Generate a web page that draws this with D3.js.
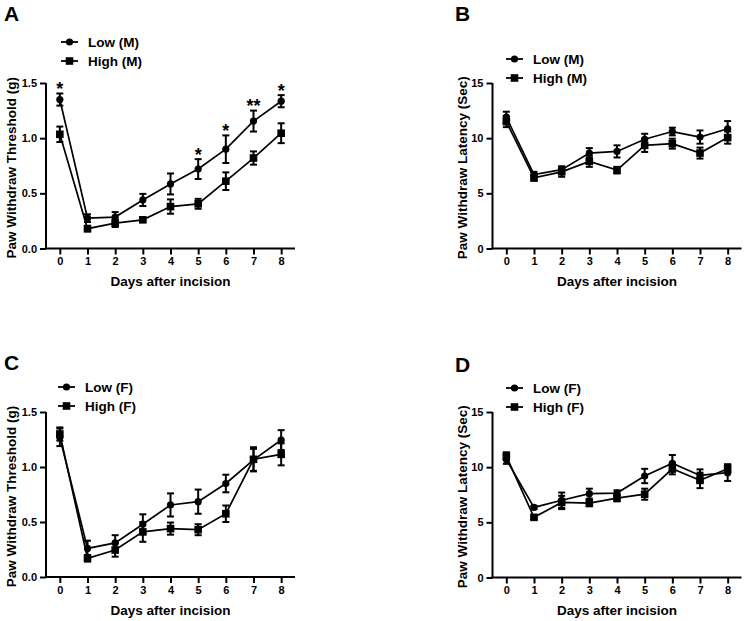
<!DOCTYPE html>
<html>
<head>
<meta charset="utf-8">
<script src="https://cdn.jsdelivr.net/npm/d3@7/dist/d3.min.js"></script>
<style>
  html, body { margin: 0; padding: 0; background: #fff; }
  svg { display: block; }
  text { font-family: "Liberation Sans", Arial, sans-serif; font-weight: bold; fill: #000; }
</style>
</head>
<body>
<svg id="chart" width="746" height="621"></svg>
<script>
// ---------- data ----------
const days = [0, 1, 2, 3, 4, 5, 6, 7, 8];
const thresholdTicks = [0, 0.5, 1.0, 1.5];
const latencyTicks = [0, 5, 10, 15];

const lowM_PWT      = [1.35, 0.275, 0.285, 0.44, 0.585, 0.72, 0.90, 1.155, 1.335];
const lowM_PWT_err  = [0.055, 0.035, 0.045, 0.055, 0.095, 0.09, 0.125, 0.095, 0.055];
const highM_PWT     = [1.035, 0.18, 0.23, 0.26, 0.38, 0.405, 0.61, 0.82, 1.045];
const highM_PWT_err = [0.07, 0.025, 0.035, 0.015, 0.065, 0.045, 0.08, 0.06, 0.09];
const sigA          = ["*", "", "", "", "", "*", "*", "**", "*"];

const lowM_PWL      = [11.9, 6.7, 7.15, 8.65, 8.8, 9.9, 10.6, 10.1, 10.85];
const lowM_PWL_err  = [0.5, 0.25, 0.3, 0.45, 0.55, 0.5, 0.35, 0.6, 0.7];
const highM_PWL     = [11.5, 6.4, 6.95, 7.9, 7.1, 9.35, 9.5, 8.65, 10.05];
const highM_PWL_err = [0.5, 0.25, 0.45, 0.5, 0.3, 0.6, 0.45, 0.5, 0.55];

const lowF_PWT      = [1.27, 0.26, 0.31, 0.48, 0.655, 0.685, 0.85, 1.065, 1.245];
const lowF_PWT_err  = [0.08, 0.07, 0.07, 0.09, 0.105, 0.11, 0.08, 0.1, 0.09];
const highF_PWT     = [1.30, 0.17, 0.245, 0.41, 0.44, 0.43, 0.575, 1.07, 1.115];
const highF_PWT_err = [0.06, 0.03, 0.06, 0.09, 0.055, 0.05, 0.075, 0.11, 0.1];

const lowF_PWL      = [10.7, 6.35, 7.0, 7.6, 7.65, 9.2, 10.35, 9.25, 9.5];
const lowF_PWL_err  = [0.4, 0.15, 0.7, 0.45, 0.25, 0.65, 0.75, 0.55, 0.75];
const highF_PWL     = [11.0, 5.45, 6.8, 6.75, 7.2, 7.55, 9.85, 8.8, 9.85];
const highF_PWL_err = [0.35, 0.15, 0.6, 0.3, 0.3, 0.5, 0.5, 0.7, 0.4];

// ---------- panels ----------
const panels = [
  { letter: "A", lx: 4, ly: 21, x0: 46, x1: 295, yTop: 83, yBot: 248.5,
    yMax: 1.5, ticks: thresholdTicks, fmt: d3.format(".1f"), yTitle: "Paw Withdraw Threshold (g)", yTitleX: 15.5,
    legX: 61, legY: 42, names: ["Low (M)", "High (M)"],
    low: lowM_PWT, lowErr: lowM_PWT_err, high: highM_PWT, highErr: highM_PWT_err, sig: sigA },
  { letter: "B", lx: 455, ly: 21, x0: 492.5, x1: 741.5, yTop: 83, yBot: 248.5,
    yMax: 15, ticks: latencyTicks, fmt: d3.format("d"), yTitle: "Paw Withdraw Latency (Sec)", yTitleX: 467,
    legX: 506, legY: 59, names: ["Low (M)", "High (M)"],
    low: lowM_PWL, lowErr: lowM_PWL_err, high: highM_PWL, highErr: highM_PWL_err, sig: null },
  { letter: "C", lx: 4, ly: 370, x0: 46, x1: 295, yTop: 412, yBot: 577,
    yMax: 1.5, ticks: thresholdTicks, fmt: d3.format(".1f"), yTitle: "Paw Withdraw Threshold (g)", yTitleX: 15.5,
    legX: 58, legY: 387, names: ["Low (F)", "High (F)"],
    low: lowF_PWT, lowErr: lowF_PWT_err, high: highF_PWT, highErr: highF_PWT_err, sig: null },
  { letter: "D", lx: 455, ly: 372, x0: 492.5, x1: 741.5, yTop: 412, yBot: 577.5,
    yMax: 15, ticks: latencyTicks, fmt: d3.format("d"), yTitle: "Paw Withdraw Latency (Sec)", yTitleX: 467,
    legX: 506, legY: 388, names: ["Low (F)", "High (F)"],
    low: lowF_PWL, lowErr: lowF_PWL_err, high: highF_PWL, highErr: highF_PWL_err, sig: null }
];

const svg = d3.select("#chart");

function drawMarker(g, shape, cx, cy) {
  if (shape === "circle") {
    g.append("circle").attr("cx", cx).attr("cy", cy).attr("r", 3.6).attr("fill", "#000");
  } else {
    g.append("rect").attr("x", cx - 3.8).attr("y", cy - 3.8).attr("width", 7.6).attr("height", 7.6).attr("fill", "#000");
  }
}

panels.forEach(p => {
  const g = svg.append("g");
  const x = d3.scaleLinear().domain([-0.5, 8.5]).range([p.x0, p.x1]);
  const y = d3.scaleLinear().domain([0, p.yMax]).range([p.yBot, p.yTop]);

  // panel letter
  g.append("text").attr("x", p.lx).attr("y", p.ly).attr("font-size", 21).text(p.letter);

  // x axis
  const xAxis = g.append("g").attr("transform", `translate(0,${p.yBot})`)
    .call(d3.axisBottom(x).tickValues(days).tickFormat(d3.format("d")).tickSizeOuter(0).tickSize(6).tickPadding(3));
  // y axis
  const yAxis = g.append("g").attr("transform", `translate(${p.x0},0)`)
    .call(d3.axisLeft(y).tickValues(p.ticks).tickFormat(p.fmt).tickSizeOuter(0).tickSize(6).tickPadding(3));
  [xAxis, yAxis].forEach(a => {
    a.select(".domain").attr("stroke", "#000").attr("stroke-width", 2);
    a.selectAll(".tick line").attr("stroke", "#000").attr("stroke-width", 2);
    a.selectAll(".tick text").attr("font-size", 11).attr("font-weight", "bold")
      .attr("font-family", "'Liberation Sans', Arial, sans-serif").attr("fill", "#000");
  });
  // extend domain lines so they meet at corner
  xAxis.select(".domain").attr("d", `M${p.x0 - 1},0H${p.x1}`);
  yAxis.select(".domain").attr("d", `M0,${p.yBot - p.yTop + 0}V0`).attr("transform", `translate(0,${p.yTop})`);

  // axis titles
  g.append("text").attr("x", (p.x0 + p.x1) / 2).attr("y", p.yBot + 37.5)
    .attr("text-anchor", "middle").attr("font-size", 13.5).text("Days after incision");
  g.append("text").attr("transform", `translate(${p.yTitleX},${(p.yTop + p.yBot) / 2 + 2}) rotate(-90)`)
    .attr("text-anchor", "middle").attr("font-size", 13.5).text(p.yTitle);

  // series
  const series = [
    { vals: p.low, err: p.lowErr, shape: "circle" },
    { vals: p.high, err: p.highErr, shape: "square" }
  ];
  const line = d3.line().x((d, i) => x(days[i])).y(d => y(d));
  series.forEach(s => {
    g.append("path").attr("d", line(s.vals)).attr("fill", "none").attr("stroke", "#000").attr("stroke-width", 1.7);
  });
  series.forEach(s => {
    s.vals.forEach((v, i) => {
      const cx = x(days[i]);
      const yt = y(v + s.err[i]), yb = y(v - s.err[i]);
      g.append("line").attr("x1", cx).attr("x2", cx).attr("y1", yt).attr("y2", yb).attr("stroke", "#000").attr("stroke-width", 2);
      g.append("line").attr("x1", cx - 3.5).attr("x2", cx + 3.5).attr("y1", yt).attr("y2", yt).attr("stroke", "#000").attr("stroke-width", 2);
      g.append("line").attr("x1", cx - 3.5).attr("x2", cx + 3.5).attr("y1", yb).attr("y2", yb).attr("stroke", "#000").attr("stroke-width", 2);
    });
  });
  series.forEach(s => {
    s.vals.forEach((v, i) => drawMarker(g, s.shape, x(days[i]), y(v)));
  });

  // significance
  if (p.sig) {
    p.sig.forEach((s, i) => {
      if (!s) return;
      g.append("text").attr("x", x(days[i])).attr("y", y(p.low[i] + p.lowErr[i]) + 1.5)
        .attr("text-anchor", "middle").attr("font-size", 18).attr("font-weight", "normal").text(s);
    });
  }

  // legend
  p.names.forEach((name, k) => {
    const ly = p.legY + k * 19;
    g.append("line").attr("x1", p.legX).attr("x2", p.legX + 17).attr("y1", ly).attr("y2", ly)
      .attr("stroke", "#000").attr("stroke-width", 1.8);
    drawMarker(g, k === 0 ? "circle" : "square", p.legX + 8.5, ly);
    g.append("text").attr("x", p.legX + 27).attr("y", ly).attr("dy", "0.35em")
      .attr("font-size", 13.5).text(name);
  });
});
</script>
</body>
</html>
